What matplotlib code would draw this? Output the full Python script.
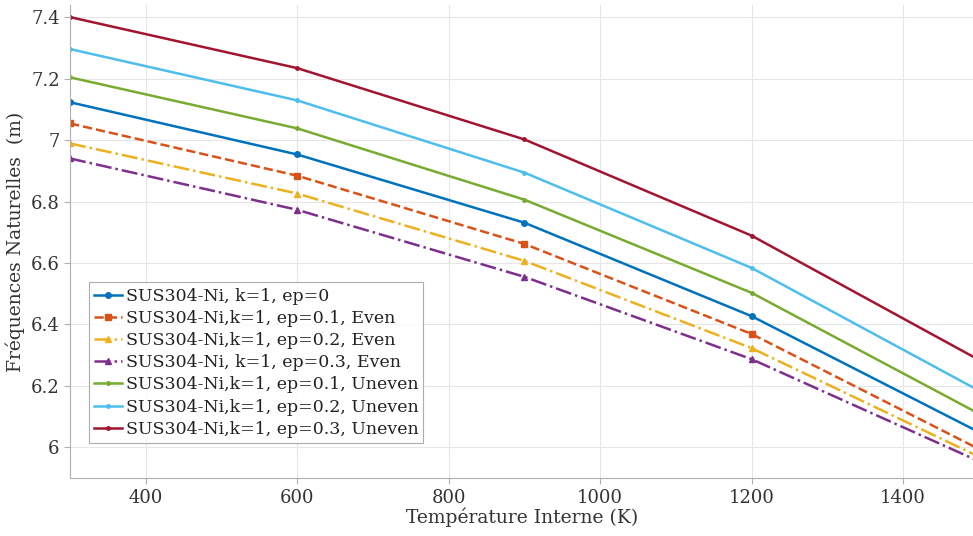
import matplotlib
matplotlib.use("Agg")
import matplotlib.pyplot as plt
from matplotlib.ticker import FuncFormatter

plt.rcParams['font.family'] = ['DejaVu Serif']

temps = [300, 600, 900, 1200, 1500]

freq_ep0 = [7.123, 6.953, 6.731, 6.427, 6.05]
freq_even_01 = [7.054, 6.884, 6.662, 6.369, 5.995]
freq_even_02 = [6.989, 6.826, 6.607, 6.323, 5.97]
freq_even_03 = [6.940, 6.773, 6.555, 6.287, 5.955]
freq_uneven_01 = [7.204, 7.038, 6.806, 6.503, 6.11]
freq_uneven_02 = [7.296, 7.129, 6.894, 6.584, 6.185]
freq_uneven_03 = [7.400, 7.234, 7.002, 6.689, 6.285]

labels = [
    'SUS304-Ni, k=1, ep=0',
    'SUS304-Ni,k=1, ep=0.1, Even',
    'SUS304-Ni,k=1, ep=0.2, Even',
    'SUS304-Ni, k=1, ep=0.3, Even',
    'SUS304-Ni,k=1, ep=0.1, Uneven',
    'SUS304-Ni,k=1, ep=0.2, Uneven',
    'SUS304-Ni,k=1, ep=0.3, Uneven',
]

series = [freq_ep0, freq_even_01, freq_even_02, freq_even_03,
          freq_uneven_01, freq_uneven_02, freq_uneven_03]
colors = ['#0072BD', '#D95319', '#EDB120', '#7E2F8E', '#77AC30', '#4DBEEE', '#A2142F']
styles = ['-', '--', '-.', '-.', '-', '-', '-']
markers = ['o', 's', '^', '^', '.', '.', '.']
msizes = [4, 4, 5, 5, 5, 5, 5]

fig = plt.figure(figsize=(9.73, 5.36), dpi=100)
ax = fig.add_axes([0.072, 0.108, 0.93, 0.883])

for vals, lab, c, ls, mk, ms in zip(series, labels, colors, styles, markers, msizes):
    ax.plot(temps, vals, linestyle=ls, color=c, marker=mk, markersize=ms,
            linewidth=1.8, label=lab)

ax.set_xlim(300, 1495)
ax.set_ylim(5.9, 7.44)
ax.set_yticks([6, 6.2, 6.4, 6.6, 6.8, 7, 7.2, 7.4])
ax.yaxis.set_major_formatter(FuncFormatter(lambda v, p: f'{v:g}'))
ax.set_xticks([400, 600, 800, 1000, 1200, 1400])

ax.grid(True, color='#e6e6e6', linewidth=0.8)
ax.set_axisbelow(True)
for side in ['top', 'right']:
    ax.spines[side].set_visible(False)
for side in ['left', 'bottom']:
    ax.spines[side].set_color('#b0b0b0')
ax.tick_params(colors='#b0b0b0', labelcolor='#333333', labelsize=13, length=4)

ax.set_xlabel('Température Interne (K)', fontsize=13.5, color='#333333', labelpad=1)
ax.set_ylabel('Fréquences Naturelles  (m)', fontsize=13.5, color='#333333', labelpad=4)

leg = ax.legend(loc='lower left', bbox_to_anchor=(0.021, 0.074), borderaxespad=0,
                fontsize=12.5, frameon=True, fancybox=False, edgecolor='#999999',
                handlelength=1.6, handletextpad=0.2, borderpad=0.3, labelspacing=0.3)
leg.get_frame().set_linewidth(0.8)
for t in leg.get_texts():
    t.set_color('#222222')

fig.savefig('out.png', dpi=100)
